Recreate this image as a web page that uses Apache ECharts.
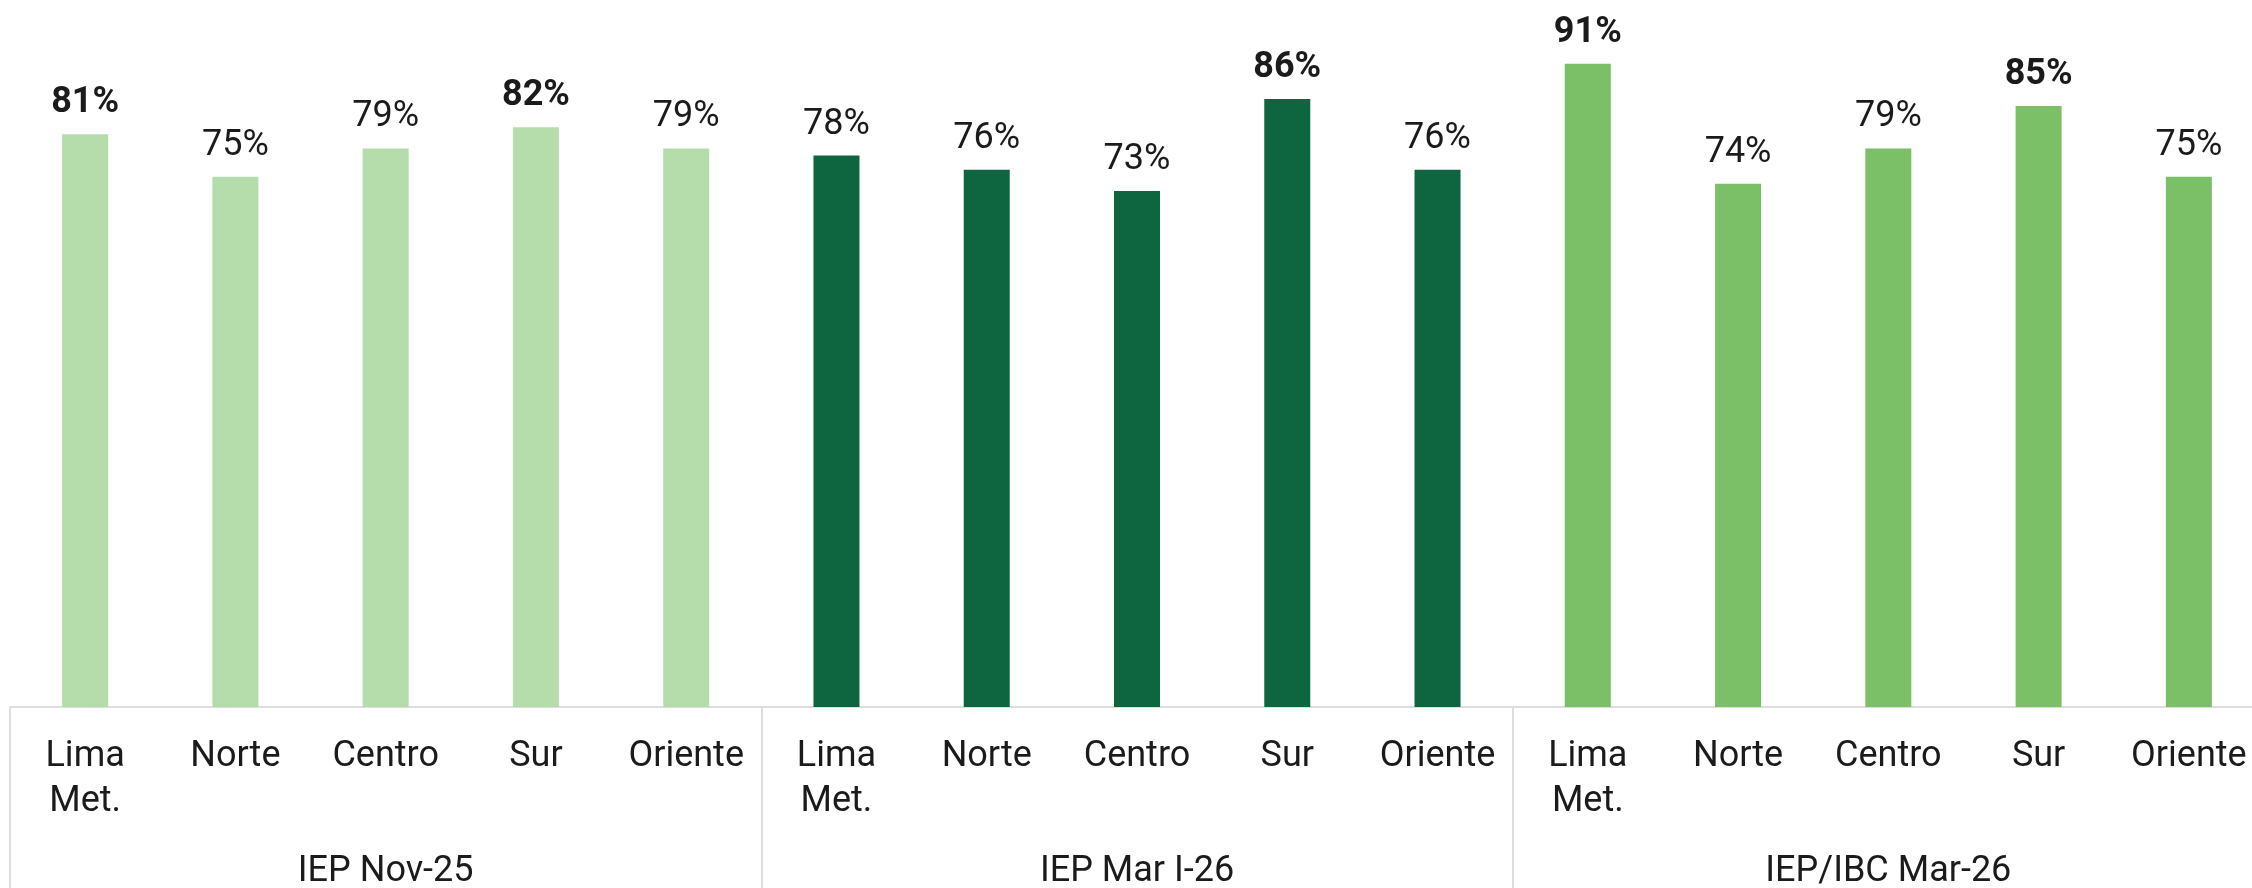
<!DOCTYPE html>
<html>
<head>
<meta charset="utf-8">
<script src="https://cdn.jsdelivr.net/npm/echarts@6/dist/echarts.min.js"></script>
<style>
  html, body { margin: 0; padding: 0; background: #ffffff; }
  #chart { width: 2252px; height: 888px; }
</style>
</head>
<body>
<div id="chart"></div>
<script>
// Survey waves and the regions reported in each one
const waves = ['IEP Nov-25', 'IEP Mar I-26', 'IEP/IBC Mar-26'];
const regions = ['Lima\nMet.', 'Norte', 'Centro', 'Sur', 'Oriente'];

// Percentage per region, one array per wave
const nov25 = [81, 75, 79, 82, 79];
const marI26 = [78, 76, 73, 86, 76];
const ibcMar26 = [91, 74, 79, 85, 75];

// Values shown in bold
const boldNov25 = [true, false, false, true, false];
const boldMarI26 = [false, false, false, true, false];
const boldIbcMar26 = [true, false, false, true, false];

const waveColors = ['#b5dcab', '#0e6640', '#7bbf67'];

const waveValues = [nov25, marI26, ibcMar26];
const waveBold = [boldNov25, boldMarI26, boldIbcMar26];

const categories = [];
const barData = [];
waveValues.forEach((vals, w) => {
  vals.forEach((v, i) => {
    categories.push(regions[i]);
    barData.push({
      value: v,
      itemStyle: { color: waveColors[w] },
      label: { fontWeight: waveBold[w][i] ? 'bold' : 'normal' }
    });
  });
});

const perWave = regions.length;
const textColor = '#1b1b1b';
const font = 'Roboto';

const chart = echarts.init(document.getElementById('chart'), null, { renderer: 'canvas' });
chart.setOption({
  animation: false,
  backgroundColor: '#ffffff',
  // the plot runs a little past the right edge of the canvas,
  // so the grid keeps its own size instead of fitting the labels inside
  grid: {
    left: 10, top: 0, width: 2254, height: 707,
    containLabel: false,
    outerBoundsMode: 'none'
  },
  xAxis: [
    {
      type: 'category',
      data: categories,
      position: 'bottom',
      axisLine: { show: true, lineStyle: { color: '#dddddd', width: 2 } },
      axisTick: {
        show: true,
        length: 181,
        interval: (idx) => idx % perWave === 0,
        lineStyle: { color: '#dddddd', width: 2 }
      },
      axisLabel: {
        interval: 0,
        margin: 27,
        fontFamily: font,
        fontSize: 36,
        lineHeight: 45,
        color: textColor
      }
    },
    {
      type: 'category',
      data: waves,
      position: 'bottom',
      gridIndex: 0,
      axisLine: { show: false },
      axisTick: { show: false },
      axisLabel: {
        interval: 0,
        margin: 142,
        fontFamily: font,
        fontSize: 36,
        lineHeight: 45,
        color: textColor
      }
    }
  ],
  yAxis: {
    type: 'value',
    min: 0,
    max: 100,
    show: false,
    splitLine: { show: false }
  },
  series: [
    {
      type: 'bar',
      xAxisIndex: 0,
      data: barData,
      barWidth: 46,
      label: {
        show: true,
        position: 'top',
        distance: 13,
        fontFamily: font,
        fontSize: 36,
        color: textColor,
        formatter: (p) => p.value + '%'
      }
    }
  ]
});
</script>
</body>
</html>
